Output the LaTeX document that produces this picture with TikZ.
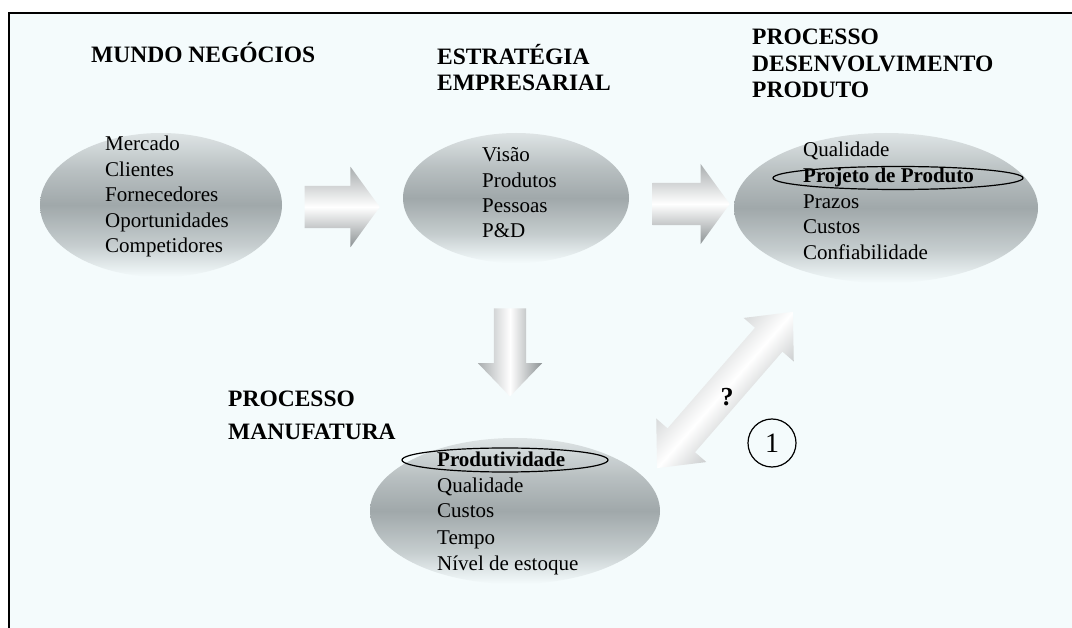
\documentclass[tikz,border=0pt]{standalone}
\usepackage{fontspec}
\setmainfont{Liberation Serif}
\usetikzlibrary{shapes.geometric,shapes.arrows}

\definecolor{bgcol}{RGB}{244,251,252}
\definecolor{blobgray}{RGB}{160,168,170}
\definecolor{blobtop}{RGB}{222,228,229}
\definecolor{arrowgray}{RGB}{140,146,148}

% shadings: 25bp = bottom of the path, 75bp = top
\pgfdeclareverticalshading{blobshade}{100bp}{color(0bp)=(bgcol); color(25bp)=(bgcol);
  color(36bp)=(blobgray!55!bgcol); color(50bp)=(blobgray); color(62bp)=(blobgray!60!blobtop);
  color(75bp)=(blobtop); color(100bp)=(blobtop)}
\pgfdeclareverticalshading{arrowshade}{100bp}{color(0bp)=(arrowgray); color(25bp)=(arrowgray);
  color(50bp)=(white); color(75bp)=(arrowgray!75!white); color(100bp)=(arrowgray!75!white)}

\tikzset{
  blob/.style={ellipse, inner sep=0pt, shading=blobshade},
  item/.style={anchor=base west, inner sep=0pt, font=\fontsize{21}{25}\selectfont},
  itembold/.style={item, font=\fontsize{21}{25}\selectfont\bfseries},
  titulo/.style={anchor=base west, inner sep=0pt, font=\fontsize{23.5}{26}\selectfont\bfseries},
  ring/.style={draw, ellipse, line width=1.2pt, inner sep=0pt},
  bigarrow/.style={single arrow, shading=arrowshade}
}

\begin{document}
\begin{tikzpicture}[x=1pt,y=-1pt]
    \useasboundingbox (0,0) rectangle (1072,628);
    \fill[bgcol] (9,13) rectangle (1072,628);
    \draw[line width=2.5pt] (9,628) -- (9,13) -- (1072,13);

    % the four ellipses
    \node[blob, minimum width=242, minimum height=144] (mundo) at (161,205) {};
    \node[blob, minimum width=226, minimum height=130] (estrat) at (516,198) {};
    \node[blob, minimum width=304, minimum height=150] (pdp) at (886,208) {};
    \node[blob, minimum width=290, minimum height=146] (manuf) at (515,511) {};

    % titles
    \node[titulo] (t-mundo) at (91,63) {MUNDO NEGÓCIOS};
    \foreach \txt [count=\i] in {ESTRATÉGIA,EMPRESARIAL}
        \node[titulo] (t-estrat-\i) at (437,{65+26*(\i-1)}) {\txt};
    \foreach \txt [count=\i] in {PROCESSO,DESENVOLVIMENTO,PRODUTO}
        \node[titulo] (t-pdp-\i) at (752,{45+26.5*(\i-1)}) {\txt};
    \foreach \txt [count=\i] in {PROCESSO,MANUFATURA}
        \node[titulo] (t-manuf-\i) at (228,{407+33*(\i-1)}) {\txt};

    % items
    \foreach \txt [count=\i] in {Mercado,Clientes,Fornecedores,Oportunidades,Competidores}
        \node[item] (mundo-\i) at (105,{151+25.5*(\i-1)}) {\txt};
    \foreach \txt [count=\i] in {Visão,Produtos,Pessoas,P\&D}
        \node[item] (estrat-\i) at (482,{162+25.3*(\i-1)}) {\txt};

    \node[item] (pdp-1) at (803,157) {Qualidade};
    \node[itembold] (pdp-2) at (803,183) {Projeto de Produto};
    \node[item] (pdp-3) at (803,209) {Prazos};
    \node[item] (pdp-4) at (803,234) {Custos};
    \node[item] (pdp-5) at (803,260) {Confiabilidade};
    \node[ring, minimum width=250, minimum height=23] (ring-pdp) at (898,178) {};

    \node[itembold] (manuf-1) at (437,467) {Produtividade};
    \node[item] (manuf-2) at (437,493) {Qualidade};
    \node[item] (manuf-3) at (437,518) {Custos};
    \node[item] (manuf-4) at (437,544) {Tempo};
    \node[item] (manuf-5) at (437,570) {Nível de estoque};
    \node[ring, minimum width=206, minimum height=24] (ring-manuf) at (505,460) {};

    % block arrows
    \node[bigarrow, inner sep=21pt, minimum height=75, minimum width=80,
          single arrow head extend=19pt, single arrow tip angle=108] (seta-1) at (334.5,207) {};
    \node[bigarrow, inner sep=21pt, minimum height=77, minimum width=80,
          single arrow head extend=19pt, single arrow tip angle=108] (seta-2) at (683.5,204) {};
    \node[bigarrow, shape border rotate=270, inner sep=16pt, minimum height=88, minimum width=64,
          single arrow head extend=16pt, single arrow tip angle=88, shading angle=90] (seta-3) at (510,344) {};
    \node[double arrow, rotate=49, inner sep=18pt, minimum height=207, minimum width=66,
          double arrow head extend=15pt, double arrow tip angle=84, shading=arrowshade, shading angle=49] (seta-4) at (725,390) {};

    \node[font=\fontsize{26}{26}\selectfont\bfseries] (q) at (727,397) {?};
    \node[draw, circle, line width=1.2pt, minimum size=48, inner sep=0pt,
          font=\fontsize{28}{28}\selectfont] (um) at (772,443) {1};
\end{tikzpicture}
\end{document}
